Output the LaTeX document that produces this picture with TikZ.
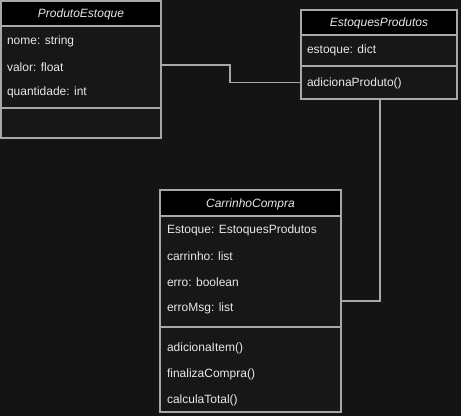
\documentclass[tikz,border=0pt]{standalone}
\usepackage{fontspec}
\setmainfont{Liberation Sans}
\definecolor{bgc}{HTML}{141414}
\definecolor{linec}{HTML}{A8A8A8}
\definecolor{txtc}{HTML}{E8E8E8}
\definecolor{boxc}{HTML}{171717}
\begin{document}
\begin{tikzpicture}[x=1pt,y=-1pt,
  every node/.style={inner sep=0pt,outer sep=0pt},
  comp/.style={draw=linec,line width=1.2pt,fill=boxc,anchor=north west},
  head/.style={comp,fill=black},
  title/.style={text=txtc,font=\fontsize{12}{14}\selectfont\itshape},
  member/.style={text=txtc,font=\fontsize{12}{14}\selectfont,anchor=west},
  conn/.style={draw=linec,line width=1.2pt}]
\fill[bgc] (0,0) rectangle (461,416);
\useasboundingbox (0,0) rectangle (461,416);
% ProdutoEstoque
\node[head,minimum width=160pt,minimum height=25pt] (pehead) at (1,1) {};
\node[comp,minimum width=160pt,minimum height=82pt] (peattr) at (1,26) {};
\node[comp,minimum width=160pt,minimum height=30pt] (pemeth) at (1,108) {};
\node[title] (pet) at (81,14) {ProdutoEstoque};
\node[member] (pe1) at (7,41) {nome: string};
\node[member] (pe2) at (7,67) {valor: float};
\node[member] (pe3) at (7,92) {quantidade: int};
% EstoquesProdutos
\node[head,minimum width=156pt,minimum height=25pt] (ephead) at (301,10) {};
\node[comp,minimum width=156pt,minimum height=31pt] (epattr) at (301,35) {};
\node[comp,minimum width=156pt,minimum height=33pt] (epmeth) at (301,66) {};
\node[title] (ept) at (379,23) {EstoquesProdutos};
\node[member] (ep1) at (307,50) {estoque: dict};
\node[member] (ep2) at (307,83) {adicionaProduto()};
% CarrinhoCompra
\node[head,minimum width=181pt,minimum height=26pt] (cchead) at (160,190) {};
\node[comp,minimum width=181pt,minimum height=111pt] (ccattr) at (160,216) {};
\node[comp,minimum width=181pt,minimum height=85pt] (ccmeth) at (160,327) {};
\node[title] (cct) at (250.5,204) {CarrinhoCompra};
\node[member] (cc1) at (167,230) {Estoque: EstoquesProdutos};
\node[member] (cc2) at (167,256) {carrinho: list};
\node[member] (cc3) at (167,282) {erro: boolean};
\node[member] (cc4) at (167,308) {erroMsg: list};
\node[member] (cc5) at (167,348) {adicionaItem()};
\node[member] (cc6) at (167,374) {finalizaCompra()};
\node[member] (cc7) at (167,400) {calculaTotal()};
% connectors
\coordinate (bend) at (230,65);
\coordinate (cj) at (380,301);
\draw[conn] (peattr.east |- bend) -- (bend) -- (bend |- epmeth.west) -- (epmeth.west);
\draw[conn] (epmeth.south -| cj) -- (cj) -- (cj -| ccattr.east);
\end{tikzpicture}
\end{document}
